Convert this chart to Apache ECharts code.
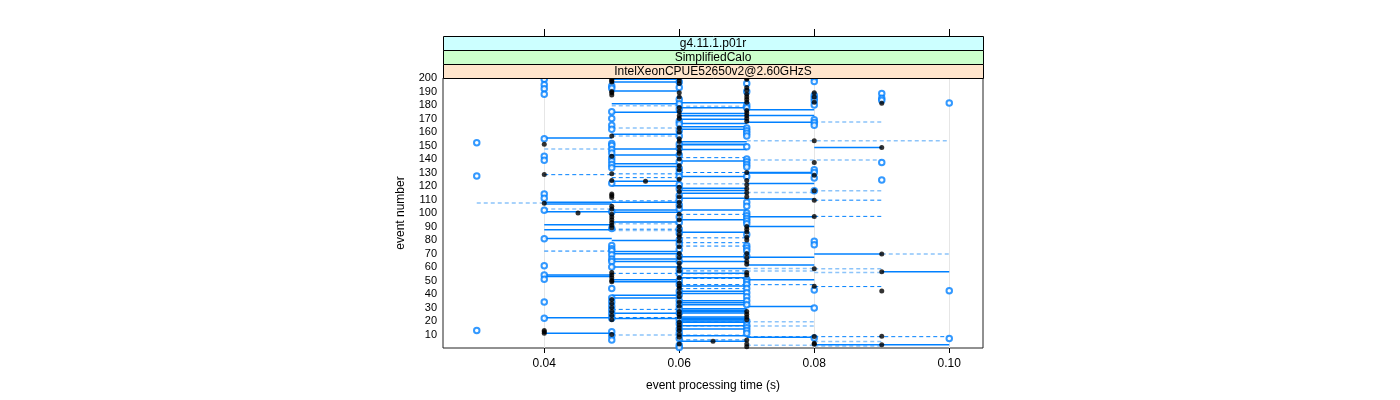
<!DOCTYPE html>
<html><head><meta charset="utf-8">
<script src="https://cdn.jsdelivr.net/npm/echarts@6/dist/echarts.min.js"></script>
<style>html,body{margin:0;padding:0;background:#fff}#c{width:1400px;height:400px}</style>
</head><body><div id="c"></div>
<script>
// ---- tick labels / text ----
const xTicks = [0.04, 0.06, 0.08, 0.10];
const yTicks = [10,20,30,40,50,60,70,80,90,100,110,120,130,140,150,160,170,180,190,200];
const stripLabels = ['g4.11.1.p01r', 'SimplifiedCalo', 'IntelXeonCPUE52650v2@2.60GHzS'];
const xTitle = 'event processing time (s)';
const yTitle = 'event number';

// ---- blue open circles: time column -> event numbers ----
const blueT = [0.03, 0.04, 0.05, 0.06, 0.07, 0.08, 0.09, 0.10];
const blueE = [
  [13, 127.5, 152],
  [199, 195, 192, 188, 155, 142, 139, 114, 111, 102, 81, 61, 54, 51, 34, 22],
  [194, 192.5, 175, 170, 165, 162, 151.5, 150, 147, 144.5, 141, 138.5, 136, 133.5, 122, 101, 88.5, 76, 73.5, 72, 69, 66, 64, 60, 44, 37, 34, 31, 28, 25, 22, 12, 9, 6],
  [197, 193, 184, 181, 177, 168, 166, 161, 157, 151, 148, 143, 138, 133, 130, 127, 121, 118, 113, 110, 106, 103, 97, 93, 88, 85, 80, 77, 73, 68, 64, 58, 55, 50, 47, 42, 39, 35, 32, 29, 26, 21, 18, 14, 11, 7, 2, 0.3],
  [196, 190, 180, 178, 163, 161, 159, 157, 149, 140, 138, 136, 134, 127, 108, 105, 100, 98, 96, 94, 92, 84, 76, 74, 72, 68, 51, 49, 47, 44, 41, 38, 35, 32, 20, 17, 15, 13, 11],
  [200, 197.5, 187, 185, 183, 180, 169, 167, 165, 132, 130, 126, 116.5, 79, 76.5, 43, 29.7, 7.5],
  [188.5, 185, 183.5, 137.5, 124.5],
  [181.5, 42.5, 7]
];

// ---- black filled dots: time column -> event numbers ----
const blackT = [0.04, 0.045, 0.05, 0.055, 0.06, 0.065, 0.07, 0.08, 0.09];
const blackE = [
  [151, 128.5, 107.3, 13, 12, 11],
  [100],
  [199, 198, 197, 190, 189, 187.5, 157, 142, 129, 124, 114, 113, 111.5, 105, 103, 99, 97, 95, 93, 91, 89, 56, 54, 52, 50, 49, 36, 33, 30, 27, 24, 21, 10],
  [123.5],
  [200, 198, 196, 189, 186, 178, 175, 172, 170, 163, 160, 155, 153, 149, 146, 144, 140, 135, 132, 125, 119, 116, 112, 108, 105, 99, 95, 90, 87, 84, 82, 79, 75, 70, 67, 63, 60, 57, 52, 48, 46, 44, 41, 38, 34, 31, 27, 25, 23, 19, 17, 15, 13, 10, 8, 3],
  [5],
  [200, 199, 193, 191, 188, 186, 184, 182, 176, 174, 172, 170, 168, 130, 124, 121, 118, 115, 112, 90, 88, 86, 82, 80, 70, 67, 64, 62, 56, 54, 27, 25, 23, 21, 6, 3, 1],
  [189, 186, 182, 153.5, 137.5, 128, 116.5, 109.5, 97.5, 58.7, 45.7, 8.5, 3.5, 2.7],
  [181.3, 148.5, 69.6, 56.4, 42.3, 8.7, 2.5]
];

// ---- solid segments: [from, to] -> event numbers ----
const solidRange = [[0.04,0.05],[0.05,0.06],[0.06,0.07],[0.07,0.08],[0.08,0.09],[0.09,0.10],[0.08,0.10]];
const solidE = [
  [155.6, 108, 106.7, 101, 91.3, 87.6, 81.2, 54, 53, 22.5, 11],
  [199, 197, 190.3, 181, 174.6, 158.4, 147.5, 143, 136.4, 134.5, 123.5, 120.2, 108, 102.3, 100.6, 93.3, 79.6, 71.4, 69.8, 66, 64, 60, 50.5, 49, 39, 37, 25.7, 21.9],
  [181.6, 177.9, 173.7, 172, 169.5, 166.3, 163.8, 162, 152.7, 151, 150.6, 147, 138.5, 127, 118.3, 116.6, 114.6, 110.9, 102.3, 95, 85.8, 67.6, 64, 58.9, 55.4, 52, 46, 42, 40.3, 35, 33.5, 32, 29, 28, 27, 26, 23, 22, 21, 20, 19, 16.5, 14, 9, 5],
  [176.5, 172.3, 167.3, 130, 129.7, 121.9, 110.3, 97.2, 90, 67.2, 61.5, 50.6, 30.7, 8],
  [148.5, 69.6],
  [56.4],
  [2.5]
];

// ---- dashed segments (darker) ----
const dashRange = [[0.04,0.05],[0.05,0.06],[0.06,0.07],[0.07,0.08],[0.08,0.10],[0.08,0.09]];
const dashE = [
  [128.4, 71.8],
  [129, 126.2, 109, 88, 55.3, 28.6, 22.6],
  [141, 130, 99, 81.6, 78, 75.5, 57.1, 51.5, 47, 44, 9.5, 6],
  [46.9, 8.4],
  [8.4],
  [109.5, 97.5, 45.5]
];

// ---- dashed segments (light) ----
const lightRange = [[0.03,0.04],[0.04,0.05],[0.05,0.06],[0.06,0.07],[0.07,0.08],[0.07,0.10],[0.07,0.09],[0.08,0.09],[0.09,0.10]];
const lightE = [
  [107.5],
  [147.5, 103],
  [179.5, 163, 157, 92, 87, 9.7],
  [179, 121.6, 55, 19.5, 16.3],
  [115.2, 58.8, 57, 19.5, 16.3, 2],
  [153.5],
  [139.2],
  [167.5, 116.5, 58.7, 56, 4.8, 1.5],
  [69.6]
];

// ---- build ----
function pts(ts, es){ const out=[]; ts.forEach((t,i)=>es[i].forEach(e=>out.push([t,e]))); return out; }
function segs(rs, es){ const out=[]; rs.forEach((r,i)=>es[i].forEach(e=>out.push([r[0],r[1],e]))); return out; }

const BLUE = '#0080ff';
function segSeries(data, stroke, width, dash){
  return {
    type:'custom', data, clip:true, silent:true, animation:false,
    encode:{x:[0,1], y:2},
    renderItem:(params, api)=>{
      const a = api.coord([api.value(0), api.value(2)]);
      const b = api.coord([api.value(1), api.value(2)]);
      return {type:'line', shape:{x1:a[0], y1:a[1], x2:b[0], y2:b[1]},
        style:{stroke, lineWidth:width, lineDash:dash||null, fill:null}};
    }
  };
}
const gridLines = {
  type:'custom', data: xTicks.map(v=>[v]), silent:true, animation:false, clip:true, z:1,
  encode:{x:0},
  renderItem:(params, api)=>{
    const a = api.coord([api.value(0), 0]);
    const b = api.coord([api.value(0), 200]);
    return {type:'line', shape:{x1:Math.round(a[0])+0.5, y1:a[1], x2:Math.round(a[0])+0.5, y2:b[1]}, style:{stroke:'#e6e6e6', lineWidth:1}};
  }
};

const chart = echarts.init(document.getElementById('c'), null, {renderer:'canvas'});
const FONT = 'Liberation Sans';
const L = 443, R = 983, T = 78, B = 348;
const stripH = 14;
const graphics = [];
stripLabels.forEach((s,i)=>{
  const colors = ['#ccffff','#ccffcc','#ffe5cc'];
  const y0 = T - stripH*(3-i);
  graphics.push({type:'rect', shape:{x:L+0.5, y:y0+0.5, width:R-L, height:stripH}, style:{fill:colors[i], stroke:'#000', lineWidth:1}, z:10});
  graphics.push({type:'text', x:(L+R)/2, y:y0+stripH/2+1, style:{text:s, font:'12px "'+FONT+'"', fill:'#000', align:'center', verticalAlign:'middle'}, z:11});
});

chart.setOption({
  animation:false,
  textStyle:{fontFamily:FONT},
  grid:{left:L, right:1400-R, top:T, bottom:400-B, show:true, borderColor:'#222', borderWidth:1, backgroundColor:'transparent'},
  xAxis:[{
    type:'value', min:0.025, max:0.105, position:'bottom',
    axisLine:{show:false}, splitLine:{show:false},
    axisTick:{show:true, customValues:xTicks, length:5, inside:false, lineStyle:{color:'#000'}},
    axisLabel:{customValues:xTicks, formatter:v=>v.toFixed(2), fontSize:12, color:'#000', margin:10, fontFamily:FONT},
    name:xTitle, nameLocation:'middle', nameGap:32, nameTextStyle:{fontSize:12, color:'#000', fontFamily:FONT}
  },{
    type:'value', min:0.025, max:0.105, position:'top', offset:stripH*3,
    axisLine:{show:false}, splitLine:{show:false},
    axisTick:{show:true, customValues:xTicks, length:7, lineStyle:{color:'#000'}},
    axisLabel:{show:false}
  }],
  yAxis:{
    type:'value', min:0, max:200,
    axisLine:{show:false}, splitLine:{show:false},
    axisTick:{show:false},
    axisLabel:{customValues:yTicks, fontSize:11, color:'#000', margin:6, fontFamily:FONT},
    name:yTitle, nameLocation:'middle', nameGap:36, nameRotate:90, nameTextStyle:{fontSize:12, color:'#000', fontFamily:FONT}
  },
  graphic:graphics,
  series:[
    gridLines,
    segSeries(segs(lightRange, lightE), '#8cc4fa', 1.5, [4,3]),
    segSeries(segs(dashRange, dashE), BLUE, 1, [4,3]),
    segSeries(segs(solidRange, solidE), BLUE, 1.5, null),
    {type:'scatter', data:pts(blueT, blueE), symbol:'emptyCircle', symbolSize:5.5, clip:true, silent:true,
      itemStyle:{color:BLUE, borderColor:BLUE, borderWidth:1.3}, z:3},
    {type:'scatter', data:pts(blackT, blackE), symbol:'circle', symbolSize:5, clip:true, silent:true,
      itemStyle:{color:'#000'}, z:4}
  ]
});
</script></body></html>
